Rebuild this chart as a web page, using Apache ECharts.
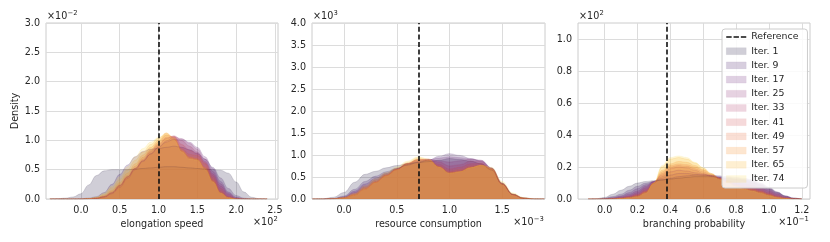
<!DOCTYPE html>
<html><head><meta charset="utf-8">
<script src="https://cdn.jsdelivr.net/npm/echarts@6/dist/echarts.min.js"></script>
<style>html,body{margin:0;padding:0;background:#fff}#c{width:830px;height:242px}</style>
</head><body><div id="c"></div>
<script>
// ---------- data ----------
const iterNames = ['Iter. 1','Iter. 9','Iter. 17','Iter. 25','Iter. 33','Iter. 41','Iter. 49','Iter. 57','Iter. 65','Iter. 74'];
const refValues = [1.0, 0.707, 0.375];
const axisTitles = ['elongation speed', 'resource consumption', 'branching probability'];

// panel 1: elongation speed (x in 1e2, density in 1e-2)
const speedX = [-0.4,-0.3,-0.2,-0.1,0.0,0.1,0.2,0.3,0.4,0.5,0.6,0.7,0.8,0.9,1.0,1.1,1.2,1.3,1.4,1.5,1.6,1.7,1.8,1.9,2.0,2.1,2.2,2.3,2.4];
const speedDensity = [
  [0,0.005,0.015,0.035,0.09,0.24,0.4,0.48,0.5,0.5,0.5,0.51,0.52,0.53,0.54,0.55,0.55,0.54,0.53,0.52,0.51,0.5,0.49,0.44,0.29,0.12,0.03,0.005,0],
  [0,0,0,0,0.005,0.015,0.04,0.11,0.25,0.42,0.58,0.72,0.81,0.85,0.86,0.88,0.9,0.88,0.84,0.78,0.68,0.54,0.36,0.18,0.06,0.015,0,0,0],
  [0,0,0,0,0,0.005,0.015,0.04,0.11,0.23,0.38,0.52,0.65,0.77,0.88,0.97,1.02,1.02,0.97,0.88,0.72,0.52,0.3,0.12,0.03,0.005,0,0,0],
  [0,0,0,0,0,0.003,0.01,0.03,0.09,0.2,0.35,0.5,0.64,0.77,0.89,0.99,1.06,1.03,0.95,0.85,0.68,0.47,0.26,0.1,0.02,0,0,0,0],
  [0,0,0,0,0,0.003,0.012,0.04,0.1,0.22,0.37,0.52,0.66,0.8,0.92,1.03,1.08,1.0,0.9,0.8,0.64,0.43,0.22,0.08,0.01,0,0,0,0],
  [0,0,0,0,0,0.004,0.014,0.04,0.11,0.23,0.38,0.53,0.68,0.82,0.94,1.05,1.07,0.93,0.83,0.77,0.62,0.4,0.18,0.05,0.005,0,0,0,0],
  [0,0,0,0,0,0.005,0.017,0.05,0.13,0.25,0.4,0.56,0.71,0.84,0.97,1.09,1.06,0.86,0.76,0.74,0.6,0.36,0.14,0.035,0.005,0,0,0,0],
  [0,0,0,0,0,0.006,0.02,0.06,0.15,0.28,0.44,0.6,0.75,0.88,1.0,1.12,1.03,0.82,0.72,0.69,0.54,0.32,0.11,0.025,0,0,0,0,0],
  [0,0,0,0,0,0.007,0.025,0.08,0.19,0.33,0.5,0.66,0.8,0.93,1.04,1.13,1.04,0.83,0.7,0.67,0.52,0.3,0.1,0.02,0,0,0,0,0],
  [0,0,0,0,0,0.008,0.03,0.1,0.22,0.38,0.55,0.72,0.86,0.97,1.05,1.1,1.0,0.8,0.68,0.66,0.5,0.29,0.1,0.02,0,0,0,0,0]
];

// panel 2: resource consumption (x in 1e-3, density in 1e3)
const resourceX = [-0.3,-0.2,-0.1,0.0,0.1,0.2,0.3,0.4,0.5,0.6,0.7,0.8,0.9,1.0,1.1,1.2,1.3,1.4,1.5,1.6,1.7,1.8,1.9];
const resourceDensity = [
  [0,0.005,0.04,0.15,0.38,0.56,0.63,0.71,0.76,0.8,0.83,0.85,0.88,0.92,0.9,0.86,0.8,0.66,0.34,0.11,0.03,0.005,0],
  [0,0,0.01,0.07,0.22,0.4,0.52,0.62,0.7,0.77,0.83,0.88,0.97,1.03,0.99,0.92,0.86,0.7,0.36,0.11,0.02,0,0],
  [0,0,0.01,0.05,0.18,0.34,0.47,0.59,0.69,0.78,0.85,0.89,0.93,0.96,0.94,0.91,0.88,0.71,0.36,0.11,0.02,0,0],
  [0,0,0.01,0.04,0.15,0.3,0.44,0.57,0.69,0.8,0.87,0.9,0.87,0.84,0.87,0.91,0.88,0.7,0.35,0.1,0.02,0,0],
  [0,0,0.005,0.035,0.13,0.27,0.41,0.55,0.68,0.81,0.89,0.91,0.84,0.75,0.78,0.86,0.85,0.69,0.34,0.1,0.02,0,0],
  [0,0,0.005,0.03,0.11,0.25,0.39,0.54,0.67,0.81,0.9,0.9,0.79,0.68,0.72,0.8,0.81,0.68,0.34,0.1,0.02,0,0],
  [0,0,0.005,0.025,0.09,0.23,0.38,0.53,0.67,0.8,0.9,0.88,0.75,0.63,0.67,0.75,0.78,0.68,0.34,0.1,0.02,0,0],
  [0,0,0.005,0.025,0.09,0.22,0.38,0.53,0.67,0.8,0.91,0.88,0.73,0.6,0.63,0.72,0.76,0.68,0.34,0.1,0.02,0,0],
  [0,0,0.005,0.03,0.11,0.26,0.42,0.57,0.7,0.83,0.94,0.9,0.73,0.59,0.62,0.71,0.76,0.7,0.37,0.12,0.03,0,0],
  [0,0,0.005,0.035,0.13,0.3,0.46,0.6,0.73,0.86,0.96,0.91,0.72,0.58,0.62,0.71,0.77,0.72,0.4,0.14,0.03,0.005,0]
];

// panel 3: branching probability (x in 1e-1, density in 1e2)
const branchX = [-0.1,-0.05,0,0.05,0.1,0.15,0.2,0.25,0.3,0.35,0.4,0.45,0.5,0.55,0.6,0.65,0.7,0.75,0.8,0.85,0.9,0.95,1.0,1.05,1.1,1.15,1.2];
const branchDensity = [
  [0,0.002,0.01,0.03,0.055,0.08,0.1,0.11,0.115,0.12,0.125,0.13,0.135,0.14,0.14,0.14,0.135,0.13,0.125,0.12,0.11,0.09,0.065,0.04,0.018,0.005,0],
  [0,0,0.005,0.015,0.03,0.055,0.08,0.1,0.11,0.12,0.13,0.14,0.145,0.15,0.15,0.15,0.145,0.14,0.135,0.13,0.12,0.1,0.075,0.045,0.02,0.006,0],
  [0,0,0.003,0.01,0.02,0.04,0.065,0.09,0.11,0.13,0.15,0.16,0.16,0.155,0.15,0.145,0.14,0.135,0.13,0.125,0.115,0.095,0.07,0.042,0.018,0.005,0],
  [0,0,0.002,0.006,0.015,0.03,0.05,0.08,0.11,0.14,0.17,0.18,0.175,0.165,0.155,0.145,0.135,0.125,0.12,0.115,0.1,0.085,0.06,0.035,0.015,0.004,0],
  [0,0,0,0.004,0.01,0.02,0.04,0.07,0.11,0.15,0.19,0.2,0.195,0.18,0.16,0.145,0.13,0.115,0.105,0.095,0.085,0.07,0.05,0.03,0.012,0.003,0],
  [0,0,0,0.003,0.008,0.016,0.03,0.06,0.1,0.16,0.2,0.21,0.205,0.19,0.17,0.15,0.13,0.11,0.095,0.085,0.075,0.06,0.04,0.022,0.008,0.002,0],
  [0,0,0,0.002,0.005,0.012,0.025,0.05,0.1,0.17,0.21,0.22,0.215,0.2,0.18,0.155,0.13,0.11,0.09,0.075,0.065,0.05,0.032,0.016,0.006,0.001,0],
  [0,0,0,0.001,0.004,0.01,0.02,0.045,0.1,0.18,0.22,0.235,0.23,0.21,0.185,0.16,0.13,0.105,0.085,0.07,0.058,0.045,0.028,0.013,0.004,0,0],
  [0,0,0,0,0.003,0.008,0.016,0.04,0.1,0.2,0.25,0.26,0.25,0.225,0.195,0.16,0.125,0.1,0.08,0.065,0.052,0.04,0.024,0.01,0.003,0,0],
  [0,0,0,0,0.002,0.006,0.013,0.035,0.1,0.21,0.26,0.27,0.26,0.23,0.195,0.155,0.12,0.095,0.075,0.06,0.048,0.035,0.02,0.008,0.002,0,0]
];

// tick labels
const xTicks = [[0,0.5,1.0,1.5,2.0,2.5],[0,0.5,1.0,1.5],[0,0.2,0.4,0.6,0.8,1.0,1.2]];
const yTicks = [[0,0.5,1.0,1.5,2.0,2.5,3.0],[0,0.5,1.0,1.5,2.0,2.5,3.0,3.5,4.0],[0,0.2,0.4,0.6,0.8,1.0]];
const xOffsetExp = ['2','\u22123','\u22121'];
const yOffsetExp = ['\u22122','3','2'];

// ---------- style / layout ----------
const palette = [[22,10,54],[57,12,92],[95,19,108],[132,32,105],[169,46,94],[203,66,72],[229,95,46],[245,132,20],[250,175,26],[248,217,80]];
const FILL_A = 0.2;
const rgba = (c,a) => `rgba(${c[0]},${c[1]},${c[2]},${a})`;
const FONT = 'DejaVu Sans';
const TXT = '#262626';
const grids = [
  {left:46, top:23, width:232, height:176},
  {left:312, top:23, width:233, height:176},
  {left:578, top:23, width:232, height:176}
];
const xRanges = [[-0.45,2.54],[-0.304,1.906],[-0.162,1.25]];
const yRanges = [[0,3],[0,4],[0,1.103]];
const panelX = [speedX, resourceX, branchX];
const panelY = [speedDensity, resourceDensity, branchDensity];

const xAxis = [], yAxis = [], series = [];
for (let p = 0; p < 3; p++) {
  xAxis.push({
    type:'value', gridIndex:p, min:xRanges[p][0], max:xRanges[p][1],
    name: axisTitles[p], nameLocation:'middle', nameGap:18,
    nameTextStyle:{fontFamily:FONT, fontSize:9.6, color:TXT},
    axisLine:{show:false}, axisTick:{show:false, customValues:xTicks[p]},
    axisLabel:{customValues:xTicks[p], margin:6, fontFamily:FONT, fontSize:9.6, color:TXT, formatter:v=>v.toFixed(1)},
    splitLine:{show:true, lineStyle:{color:'#dcdcdc', width:1}}
  });
  yAxis.push({
    type:'value', gridIndex:p, min:yRanges[p][0], max:yRanges[p][1],
    name: p===0 ? 'Density' : '', nameLocation:'middle', nameGap:26, nameRotate:90,
    nameTextStyle:{fontFamily:FONT, fontSize:9.6, color:TXT},
    axisLine:{show:false}, axisTick:{show:false, customValues:yTicks[p]},
    axisLabel:{customValues:yTicks[p], margin:6, fontFamily:FONT, fontSize:9.6, color:TXT, formatter:v=>v.toFixed(1)},
    splitLine:{show:true, lineStyle:{color:'#dcdcdc', width:1}}
  });
  for (let k = 0; k < iterNames.length; k++) {
    const c = palette[k];
    series.push({
      type:'line', name:iterNames[k], xAxisIndex:p, yAxisIndex:p,
      data: panelX[p].map((x,i)=>[x, panelY[p][k][i]]),
      smooth:0.4, smoothMonotone:'x', symbol:'none', showSymbol:false,
      color: rgba(c,FILL_A),
      lineStyle:{color:rgba(c,0.2), width:0.7},
      areaStyle:{color:rgba(c,FILL_A), opacity:1},
      emphasis:{disabled:true}, silent:true, z:2
    });
  }
  series.push({
    type:'line', name:'Reference', xAxisIndex:p, yAxisIndex:p, data:[],
    symbol:'none', color:'#111',
    lineStyle:{color:'#111', width:1.6, type:[5,2.6]},
    markLine:{silent:true, symbol:'none', label:{show:false},
      lineStyle:{color:'#111', width:1.6, type:[5,2.6]},
      data:[{xAxis:refValues[p]}]},
    z:5
  });
}

// offset texts (matplotlib style scientific multipliers)
const graphic = [];
function offsetText(left, right, cy, exp) {
  const g = {type:'group', children:[]};
  const baseW = 20.2, expW = exp.length > 1 ? 11.5 : 4.8;
  const x0 = left !== null ? left : right - baseW - expW;
  g.children.push({type:'text', x:x0, y:cy, style:{text:'\u00d710', font:`9.6px "${FONT}"`, fill:TXT, verticalAlign:'middle'}});
  g.children.push({type:'text', x:x0+baseW+0.3, y:cy-3.5, style:{text:exp, font:`6.8px "${FONT}"`, fill:TXT, verticalAlign:'middle'}});
  return g;
}
for (let p = 0; p < 3; p++) {
  const g = grids[p];
  graphic.push(offsetText(g.left+1, null, 16.5, yOffsetExp[p]));
  graphic.push(offsetText(null, g.left+g.width, 222.5, xOffsetExp[p]));
}

const legendData = [{
  name:'Reference',
  icon:'path://M0,0h5.4v1.7h-5.4zM7.3,0h5.4v1.7h-5.4zM14.6,0h5.4v1.7h-5.4z',
  itemStyle:{color:'#111', borderWidth:0}
}].concat(iterNames.map((n,k)=>({
  name:n, icon:'rect',
  itemStyle:{color:rgba(palette[k],0.2), borderColor:rgba(palette[k],0.08), borderWidth:0.5}
})));

const chart = echarts.init(document.getElementById('c'), null, {renderer:'canvas'});
chart.setOption({
  animation:false,
  backgroundColor:'#fff',
  grid: grids.map(g=>Object.assign({show:true, borderColor:'#cccccc', borderWidth:1, backgroundColor:'transparent', containLabel:false}, g)),
  xAxis, yAxis, series, graphic,
  legend:{
    data:legendData, orient:'vertical', left:722, top:29,
    padding:[2,9,3,4], itemGap:2.2, itemWidth:20, itemHeight:7,
    backgroundColor:'rgba(255,255,255,0.85)', borderColor:'#cccccc', borderWidth:1, borderRadius:3,
    textStyle:{fontFamily:FONT, fontSize:9.4, color:TXT, lineHeight:12},
    selectedMode:false
  }
});
</script>
</body></html>
